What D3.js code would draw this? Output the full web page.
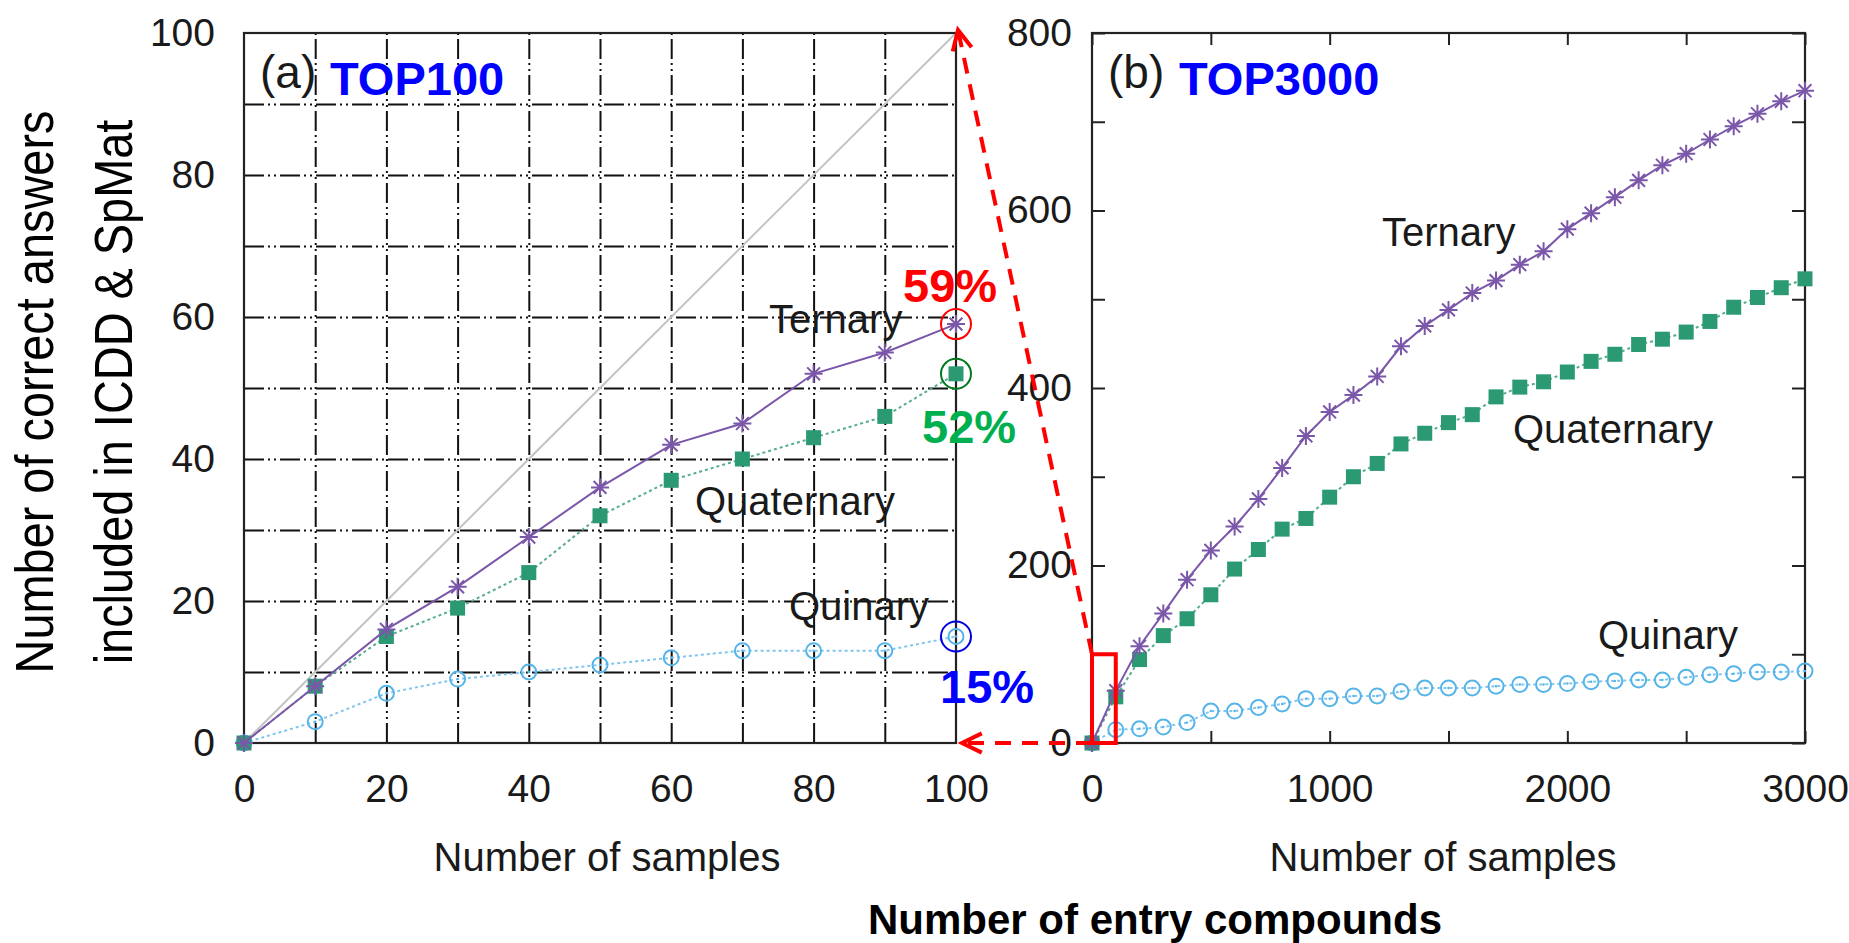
<!DOCTYPE html>
<html>
<head>
<meta charset="utf-8">
<script src="https://cdn.jsdelivr.net/npm/d3@7/dist/d3.min.js"></script>
<style>
  html, body { margin: 0; padding: 0; background: #fff; }
  svg { display: block; }
  text { font-family: "Liberation Sans", Arial, Helvetica, sans-serif; }
</style>
</head>
<body>
<svg id="chart" width="1849" height="943"></svg>
<script>
// ---- Panel (a): TOP100 ----
const samplesA    = [0, 10, 20, 30, 40, 50, 60, 70, 80, 90, 100];
const ternaryA    = [0, 8, 16, 22, 29, 36, 42, 45, 52, 55, 59];
const quaternaryA = [0, 8, 15, 19, 24, 32, 37, 40, 43, 46, 52];
const quinaryA    = [0, 3, 7, 9, 10, 11, 12, 13, 13, 13, 15];

// ---- Panel (b): TOP3000 ----
const samplesB    = [0, 100, 200, 300, 400, 500, 600, 700, 800, 900, 1000,
                     1100, 1200, 1300, 1400, 1500, 1600, 1700, 1800, 1900, 2000,
                     2100, 2200, 2300, 2400, 2500, 2600, 2700, 2800, 2900, 3000];
const ternaryB    = [0, 59, 109, 146, 184, 217, 244, 275, 310, 346, 373,
                     392, 413, 447, 470, 488, 507, 521, 539, 554, 579,
                     597, 615, 634, 651, 664, 680, 695, 709, 723, 735];
const quaternaryB = [0, 52, 94, 121, 140, 167, 196, 218, 241, 253, 277,
                     300, 315, 337, 349, 361, 370, 390, 401, 407, 418,
                     430, 438, 449, 455, 463, 475, 491, 502, 513, 523];
const quinaryB    = [0, 15, 16, 18, 23, 36, 36, 40, 44, 50, 50,
                     53, 53, 58, 62, 62, 62, 64, 66, 66, 67,
                     69, 70, 71, 71, 74, 77, 78, 80, 80, 81];

// ---- Tick values ----
const gridA       = [10, 20, 30, 40, 50, 60, 70, 80, 90];
const tickLabelsA = [0, 20, 40, 60, 80, 100];
const xTicksB     = [0, 500, 1000, 1500, 2000, 2500, 3000];
const xLabelsB    = [0, 1000, 2000, 3000];
const yTicksB     = [0, 100, 200, 300, 400, 500, 600, 700, 800];
const yLabelsB    = [0, 200, 400, 600, 800];

// ---- Annotations ----
const seriesNames = ["Ternary", "Quaternary", "Quinary"];
const percentLabels = ["59%", "52%", "15%"];

const colTernary = "#7b57a9";
const colQuat    = "#2b9a73";
const colQuin    = "#56b4e9";
const textCol    = "#1a1a1a";

const svg = d3.select("#chart");
svg.append("rect").attr("width", 1849).attr("height", 943).attr("fill", "#fff");

const plotTop = 33, plotBottom = 743;
const xA = d3.scaleLinear().domain([0, 100]).range([244, 956]);
const yA = d3.scaleLinear().domain([0, 100]).range([plotBottom, plotTop]);
const xB = d3.scaleLinear().domain([0, 3000]).range([1092, 1805]);
const yB = d3.scaleLinear().domain([0, 800]).range([plotBottom, plotTop]);

// ---------- markers ----------
function star(g, cx, cy, color) {
  const r = 9, d = 6.4;
  g.append("path")
    .attr("d", `M${cx - r},${cy}H${cx + r}M${cx},${cy - r}V${cy + r}` +
               `M${cx - d},${cy - d}L${cx + d},${cy + d}M${cx - d},${cy + d}L${cx + d},${cy - d}`)
    .attr("stroke", color).attr("stroke-width", 2).attr("fill", "none");
}
function square(g, cx, cy, color) {
  g.append("rect").attr("x", cx - 7.5).attr("y", cy - 7.5)
    .attr("width", 15).attr("height", 15).attr("fill", color);
}
function ring(g, cx, cy, color) {
  g.append("circle").attr("cx", cx).attr("cy", cy).attr("r", 7.5)
    .attr("fill", "none").attr("stroke", color).attr("stroke-width", 2);
  g.append("circle").attr("cx", cx).attr("cy", cy).attr("r", 1.2).attr("fill", color);
}

function series(g, x, y, xs, ys, color, dash, marker, lineColor) {
  const pts = xs.map((v, i) => [x(v), y(ys[i])]);
  g.append("path")
    .attr("d", d3.line()(pts))
    .attr("fill", "none")
    .attr("stroke", lineColor || color)
    .attr("stroke-width", 2)
    .attr("stroke-dasharray", dash);
  pts.forEach(p => marker(g, p[0], p[1], color));
}

function styleLabels(sel, size) {
  sel.selectAll("text").attr("font-size", size).attr("fill", textCol)
    .attr("font-family", '"Liberation Sans", Arial, sans-serif');
}

// ================= Panel (a) =================
const gA = svg.append("g");
const wA = xA(100) - xA(0), hA = yA(0) - yA(100);

// dash-dot grid
const gridDash = "20 4 2 4 2 4";
const gxA = gA.append("g").attr("transform", `translate(0,${yA(0)})`)
  .call(d3.axisBottom(xA).tickValues(gridA).tickSize(-hA).tickFormat(""));
gxA.select(".domain").remove();
gxA.selectAll("line").attr("stroke", "#111").attr("stroke-width", 2).attr("stroke-dasharray", gridDash);
const gyA = gA.append("g").attr("transform", `translate(${xA(0)},0)`)
  .call(d3.axisLeft(yA).tickValues(gridA).tickSize(-wA).tickFormat(""));
gyA.select(".domain").remove();
gyA.selectAll("line").attr("stroke", "#111").attr("stroke-width", 2).attr("stroke-dasharray", gridDash);

// tick labels
const lxA = gA.append("g").attr("transform", `translate(0,${yA(0)})`)
  .call(d3.axisBottom(xA).tickValues(tickLabelsA).tickSize(0).tickPadding(31));
lxA.select(".domain").remove();
styleLabels(lxA, 39);
const lyA = gA.append("g").attr("transform", `translate(${xA(0)},0)`)
  .call(d3.axisLeft(yA).tickValues(tickLabelsA).tickSize(0).tickPadding(29));
lyA.select(".domain").remove();
styleLabels(lyA, 39);

// diagonal reference
gA.append("line")
  .attr("x1", xA(0)).attr("y1", yA(0)).attr("x2", xA(100)).attr("y2", yA(100))
  .attr("stroke", "#c4c4c4").attr("stroke-width", 2);

// frame
gA.append("rect").attr("x", xA(0)).attr("y", yA(100)).attr("width", wA).attr("height", hA)
  .attr("fill", "none").attr("stroke", "#222").attr("stroke-width", 2.2);

series(gA, xA, yA, samplesA, quinaryA, colQuin, "3 3", ring, "#7fc6ee");
series(gA, xA, yA, samplesA, quaternaryA, colQuat, "3 3", square, "#55ad8c");
series(gA, xA, yA, samplesA, ternaryA, colTernary, null, star);

// series names
const nameStyle = sel => sel.attr("font-size", 40).attr("fill", textCol);
gA.append("text").attr("x", 769).attr("y", 333).text(seriesNames[0]).call(nameStyle);
gA.append("text").attr("x", 695).attr("y", 515).text(seriesNames[1]).call(nameStyle);
gA.append("text").attr("x", 789).attr("y", 620).text(seriesNames[2]).call(nameStyle);

// panel title
gA.append("text").attr("x", 260).attr("y", 88).attr("font-size", 46).attr("fill", textCol).text("(a)");
gA.append("text").attr("x", 330).attr("y", 95).attr("font-size", 47).attr("font-weight", "bold")
  .attr("fill", "#0000ff").text("TOP100");

// highlighted end points
const last = samplesA.length - 1;
const hl = [
  { v: ternaryA[last],    ring: "#ff0000", fill: "#ff0000", x: 903, y: 302 },
  { v: quaternaryA[last], ring: "#007a1e", fill: "#00b050", x: 922, y: 443 },
  { v: quinaryA[last],    ring: "#0000e0", fill: "#0000ff", x: 940, y: 703 }
];
hl.forEach((h, i) => {
  gA.append("circle").attr("cx", xA(samplesA[last])).attr("cy", yA(h.v)).attr("r", 15)
    .attr("fill", "none").attr("stroke", h.ring).attr("stroke-width", 2);
  gA.append("text").attr("x", h.x).attr("y", h.y).attr("font-size", 47)
    .attr("font-weight", "bold").attr("fill", h.fill).text(percentLabels[i]);
});

// ================= Panel (b) =================
const gB = svg.append("g");
const wB = xB(3000) - xB(0), hB = yB(0) - yB(800);
const tickStyle = sel => { sel.select(".domain").remove(); sel.selectAll("line").attr("stroke", "#222").attr("stroke-width", 2); };

const bxB = gB.append("g").attr("transform", `translate(0,${yB(0)})`)
  .call(d3.axisBottom(xB).tickValues(xTicksB).tickSize(-12).tickPadding(31)
    .tickFormat(d => xLabelsB.includes(d) ? d : ""));
tickStyle(bxB); styleLabels(bxB, 39);
const txB = gB.append("g").attr("transform", `translate(0,${yB(800)})`)
  .call(d3.axisTop(xB).tickValues(xTicksB).tickSize(-12).tickFormat(""));
tickStyle(txB);
const lyB = gB.append("g").attr("transform", `translate(${xB(0)},0)`)
  .call(d3.axisLeft(yB).tickValues(yTicksB).tickSize(-13).tickPadding(20)
    .tickFormat(d => yLabelsB.includes(d) ? d : ""));
tickStyle(lyB); styleLabels(lyB, 39);
const ryB = gB.append("g").attr("transform", `translate(${xB(3000)},0)`)
  .call(d3.axisRight(yB).tickValues(yTicksB).tickSize(-13).tickFormat(""));
tickStyle(ryB);

gB.append("rect").attr("x", xB(0)).attr("y", yB(800)).attr("width", wB).attr("height", hB)
  .attr("fill", "none").attr("stroke", "#222").attr("stroke-width", 2.2);

series(gB, xB, yB, samplesB, quinaryB, colQuin, "3 3", ring, "#7fc6ee");
series(gB, xB, yB, samplesB, quaternaryB, colQuat, "3 3", square, "#55ad8c");
series(gB, xB, yB, samplesB, ternaryB, colTernary, null, star);

gB.append("text").attr("x", 1382).attr("y", 246).text(seriesNames[0]).call(nameStyle);
gB.append("text").attr("x", 1513).attr("y", 443).text(seriesNames[1]).call(nameStyle);
gB.append("text").attr("x", 1598).attr("y", 649).text(seriesNames[2]).call(nameStyle);

gB.append("text").attr("x", 1108).attr("y", 88).attr("font-size", 46).attr("fill", textCol).text("(b)");
gB.append("text").attr("x", 1179).attr("y", 95).attr("font-size", 47).attr("font-weight", "bold")
  .attr("fill", "#0000ff").text("TOP3000");

// ---- zoom box: the first 100 samples of (b) correspond to the whole of (a) ----
const red = "#ff0000";
gB.append("rect")
  .attr("x", xB(0)).attr("y", yB(100))
  .attr("width", xB(100) - xB(0)).attr("height", yB(0) - yB(100))
  .attr("fill", "none").attr("stroke", red).attr("stroke-width", 4);

function arrow(g, x1, y1, x2, y2) {
  const dx = x2 - x1, dy = y2 - y1, L = Math.hypot(dx, dy);
  const ux = dx / L, uy = dy / L;
  g.append("line").attr("x1", x1).attr("y1", y1).attr("x2", x2 - ux * 3).attr("y2", y2 - uy * 3)
    .attr("stroke", red).attr("stroke-width", 4).attr("stroke-dasharray", "16 11");
  const a = 26 * Math.PI / 180, len = 22;
  const wing = s => {
    const c = Math.cos(s * a), sn = Math.sin(s * a);
    const bx = -ux, by = -uy;
    return [x2 + len * (bx * c - by * sn), y2 + len * (bx * sn + by * c)];
  };
  const w1 = wing(1), w2 = wing(-1);
  g.append("path").attr("d", `M${w1[0]},${w1[1]}L${x2},${y2}L${w2[0]},${w2[1]}`)
    .attr("fill", "none").attr("stroke", red).attr("stroke-width", 4);
}
arrow(svg, xB(0), yB(100), xA(100) + 2, yA(100) - 3);
arrow(svg, xB(0), yB(0), xA(100) + 6, yA(0));

// ================= Shared titles =================
const yTitle = svg.append("g").attr("transform", "translate(53,392) rotate(-90) scale(0.885,1)");
yTitle.append("text").attr("text-anchor", "middle").attr("font-size", 53).attr("fill", "#000")
  .text("Number of correct answers");
const yTitle2 = svg.append("g").attr("transform", "translate(132,392) rotate(-90) scale(0.885,1)");
yTitle2.append("text").attr("text-anchor", "middle").attr("font-size", 53).attr("fill", "#000")
  .text("included in ICDD & SpMat");

svg.append("text").attr("x", 607).attr("y", 871).attr("text-anchor", "middle")
  .attr("font-size", 40).attr("fill", textCol).text("Number of samples");
svg.append("text").attr("x", 1443).attr("y", 871).attr("text-anchor", "middle")
  .attr("font-size", 40).attr("fill", textCol).text("Number of samples");
svg.append("text").attr("x", 1155).attr("y", 934).attr("text-anchor", "middle")
  .attr("font-size", 42).attr("font-weight", "bold").attr("fill", "#000")
  .text("Number of entry compounds");
</script>
</body>
</html>
